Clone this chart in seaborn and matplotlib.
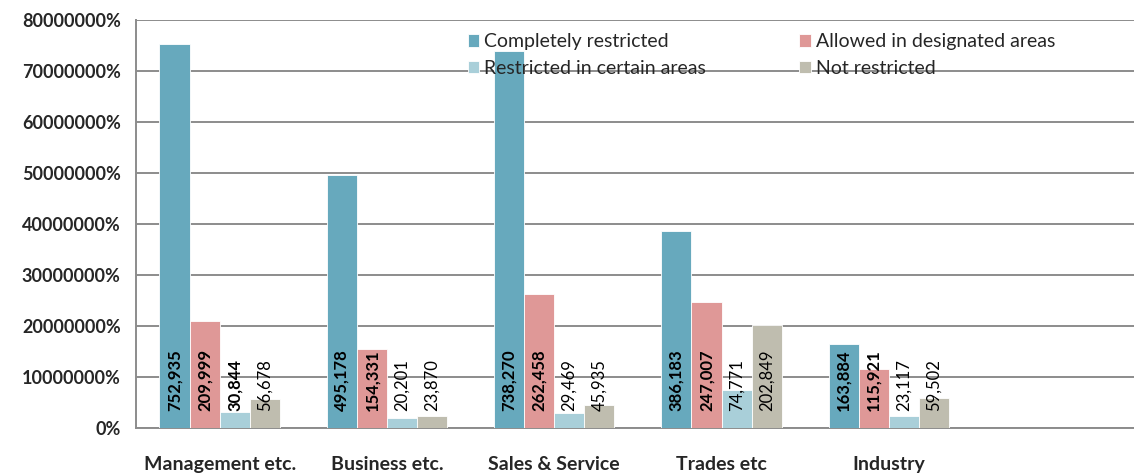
import numpy as np
import pandas as pd
import matplotlib
matplotlib.use("Agg")
import matplotlib.pyplot as plt
import seaborn as sns
from matplotlib.ticker import FuncFormatter, MultipleLocator

# ---- data ----
categories = ["Management etc.", "Business etc.", "Sales & Service", "Trades etc", "Industry"]
series = ["Completely restricted", "Allowed in designated areas",
          "Restricted in certain areas", "Not restricted"]
completely_restricted = [752935, 495178, 738270, 386183, 163884]
allowed_designated = [209999, 154331, 262458, 247007, 115921]
restricted_certain = [30844, 20201, 29469, 74771, 23117]
not_restricted = [56678, 23870, 45935, 202849, 59502]
# which value labels are printed bold in the original
bold_labels = [[True] * 5, [True] * 5,
               [True, False, False, False, False], [False] * 5]

colors = ["#67A9BD", "#DF9897", "#A9CFD9", "#BFBDAF"]

rows = []
for s, vals in zip(series, [completely_restricted, allowed_designated,
                            restricted_certain, not_restricted]):
    for c, v in zip(categories, vals):
        rows.append({"category": c, "series": s, "value": v})
df = pd.DataFrame(rows)

sns.set_style("white")
plt.rcParams["font.family"] = ["Lato", "DejaVu Sans"]

fig = plt.figure(figsize=(11.34, 4.74), dpi=100)
ax = fig.add_axes([0.12, 0.097, 0.885, 0.861])

sns.barplot(data=df, x="category", y="value", hue="series",
            order=categories + [""], hue_order=series, palette=colors, saturation=1,
            width=0.72, edgecolor="white", linewidth=0.6, ax=ax, zorder=3)

# value labels, rotated, sitting near the base of each bar
for i, cont in enumerate(ax.containers):
    for j, bar in enumerate(cont):
        x = bar.get_x() + bar.get_width() / 2
        ax.annotate(f"{int(bar.get_height()):,}", xy=(x, 0), xytext=(0, 12),
                    textcoords="offset points", rotation=90, ha="center", va="bottom",
                    fontsize=12, fontweight="bold" if bold_labels[i][j] else "normal",
                    color="black", zorder=5)

ax.set_ylim(0, 800000)
ax.set_xlim(-0.5, 5.44)
ax.yaxis.set_major_locator(MultipleLocator(100000))
ax.yaxis.set_major_formatter(FuncFormatter(lambda v, p: f"{v * 100:.0f}%"))
ax.grid(axis="y", color="#8C8C8C", linewidth=1.4, zorder=0)
ax.set_axisbelow(True)

ax.set_xticks(range(len(categories)))
ax.set_xticklabels(categories)
ax.set_xticks(np.arange(-0.5, 5.6, 1.0), minor=True)
ax.tick_params(axis="x", which="major", length=0, pad=20, labelsize=14)
ax.tick_params(axis="x", which="minor", length=5, width=1.2, color="#8C8C8C", direction="out")
ax.tick_params(axis="y", length=5, width=1.2, color="#8C8C8C", direction="out",
               labelsize=13, pad=6)
for lab in ax.get_xticklabels() + ax.get_yticklabels():
    lab.set_fontweight("bold")

for side in ["top", "right"]:
    ax.spines[side].set_visible(False)
for side in ["left", "bottom"]:
    ax.spines[side].set_color("#8C8C8C")
    ax.spines[side].set_linewidth(1.4)

ax.set_xlabel("")
ax.set_ylabel("")

# legend reads row by row in the original
handles, labels = ax.get_legend_handles_labels()
order = [0, 2, 1, 3]
leg = ax.legend([handles[k] for k in order], [labels[k] for k in order], ncol=2,
                loc="upper left", bbox_to_anchor=(0.313, 1.01),
                frameon=False, fontsize=14, handlelength=0.6, handleheight=0.6,
                handletextpad=0.25, columnspacing=4.8, labelspacing=0.5)
leg.set_zorder(4)

fig.savefig("out.png", dpi=100)
